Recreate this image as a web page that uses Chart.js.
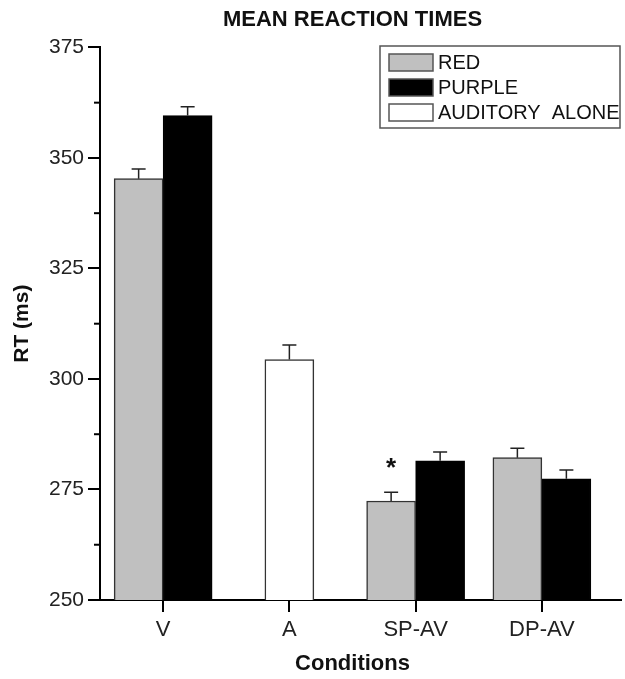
<!DOCTYPE html>
<html>
<head>
<meta charset="utf-8">
<script src="https://cdn.jsdelivr.net/npm/chart.js@4.4.1/dist/chart.umd.min.js"></script>
<style>
  html, body { margin: 0; padding: 0; background: #fff; }
  #wrap { width: 625px; height: 679px; }
</style>
</head>
<body>
<div id="wrap"><canvas id="rtChart"></canvas></div>
<script>
const conditions = ["V", "A", "SP-AV", "DP-AV"];
const redMeans = [345.3, null, 272.4, 282.2];
const redErrors = [2.2, null, 2.0, 2.1];
const purpleMeans = [359.6, null, 281.5, 277.4];
const purpleErrors = [2.0, null, 2.0, 2.0];
const auditoryMeans = [null, 304.4, null, null];
const auditoryErrors = [null, 3.3, null, null];
const yTicks = [250, 275, 300, 325, 350, 375];
const starMarks = [{ dataset: 0, index: 2, text: "*" }];

const FONT = "'Liberation Sans', Arial, Helvetica, sans-serif";

// error bars (upper only) + significance star
const errorBars = {
  id: "errorBars",
  afterDatasetsDraw(chart) {
    const ctx = chart.ctx;
    const y = chart.scales.y;
    ctx.save();
    ctx.strokeStyle = "#222";
    ctx.lineWidth = 1.5;
    chart.data.datasets.forEach((ds, i) => {
      const meta = chart.getDatasetMeta(i);
      meta.data.forEach((bar, j) => {
        const v = ds.data[j], e = ds.errors[j];
        if (v == null || e == null) return;
        const top = y.getPixelForValue(v + e);
        ctx.beginPath();
        ctx.moveTo(bar.x, bar.y);
        ctx.lineTo(bar.x, top);
        ctx.moveTo(bar.x - 7, top);
        ctx.lineTo(bar.x + 7, top);
        ctx.stroke();
      });
    });
    ctx.fillStyle = "#111";
    ctx.font = "bold 26px " + FONT;
    ctx.textAlign = "center";
    ctx.textBaseline = "top";
    starMarks.forEach((m) => {
      const ds = chart.data.datasets[m.dataset];
      const bar = chart.getDatasetMeta(m.dataset).data[m.index];
      const top = y.getPixelForValue(ds.data[m.index] + ds.errors[m.index]);
      ctx.fillText(m.text, bar.x, top - 36);
    });
    ctx.restore();
  },
  afterDraw(chart) {
    const ctx = chart.ctx;
    const area = chart.chartArea;
    const y = chart.scales.y;
    ctx.save();
    ctx.strokeStyle = "#000";
    ctx.lineWidth = 2;
    // x axis runs on past the last group
    ctx.beginPath();
    ctx.moveTo(area.right - 1, area.bottom);
    ctx.lineTo(622, area.bottom);
    ctx.stroke();
    // minor ticks
    for (let k = 0; k < yTicks.length - 1; k++) {
      const py = y.getPixelForValue((yTicks[k] + yTicks[k + 1]) / 2);
      ctx.beginPath();
      ctx.moveTo(area.left - 6, py);
      ctx.lineTo(area.left, py);
      ctx.stroke();
    }
    ctx.restore();
  }
};

// legend box inside the plot, top right
const boxLegend = {
  id: "boxLegend",
  afterDraw(chart) {
    const ctx = chart.ctx;
    ctx.save();
    ctx.strokeStyle = "#555";
    ctx.lineWidth = 1.5;
    ctx.strokeRect(380, 46, 240, 82);
    ctx.font = "20px " + FONT;
    ctx.textBaseline = "middle";
    ctx.textAlign = "left";
    chart.data.datasets.forEach((ds, i) => {
      const top = 54 + i * 25;
      ctx.fillStyle = ds.backgroundColor;
      ctx.fillRect(389, top, 44, 17);
      ctx.strokeStyle = "#555";
      ctx.strokeRect(389, top, 44, 17);
      ctx.fillStyle = "#111";
      ctx.fillText(ds.label, 438, top + 9);
    });
    ctx.restore();
  }
};

new Chart(document.getElementById("rtChart"), {
  type: "bar",
  data: {
    labels: conditions,
    datasets: [
      { label: "RED", data: redMeans, errors: redErrors,
        backgroundColor: "#c0c0c0", borderColor: "#333", borderWidth: 1.5 },
      { label: "PURPLE", data: purpleMeans, errors: purpleErrors,
        backgroundColor: "#000000", borderColor: "#000", borderWidth: 1.5 },
      { label: "AUDITORY  ALONE", data: auditoryMeans, errors: auditoryErrors,
        backgroundColor: "#ffffff", borderColor: "#333", borderWidth: 1.5 }
    ]
  },
  options: {
    responsive: true,
    maintainAspectRatio: false,
    animation: false,
    skipNull: true,
    barThickness: 49,
    layout: { padding: { left: 0, right: 20, top: 0, bottom: 0 } },
    plugins: {
      legend: { display: false },
      tooltip: { enabled: false },
      title: {
        display: true,
        fullSize: false,
        text: "MEAN REACTION TIMES",
        color: "#111",
        font: { family: FONT, size: 22, weight: "bold" },
        padding: { top: 7, bottom: 14 }
      }
    },
    scales: {
      x: {
        afterFit: (s) => { s.height = 79; },
        border: { color: "#000", width: 2 },
        grid: { drawOnChartArea: false, offset: false, tickLength: 12, color: "#000", lineWidth: 2 },
        ticks: { color: "#222", padding: 5, font: { family: FONT, size: 22 } },
        title: {
          display: true, text: "Conditions", color: "#111",
          font: { family: FONT, size: 22, weight: "bold" },
          padding: { top: 0, bottom: 2 }
        }
      },
      y: {
        min: 250,
        max: 375,
        afterFit: (s) => { s.width = 100; },
        afterBuildTicks: (s) => { s.ticks = yTicks.map((v) => ({ value: v })); },
        border: { color: "#000", width: 2 },
        grid: { drawOnChartArea: false, tickLength: 12, color: "#000", lineWidth: 2 },
        ticks: { color: "#222", padding: 4, font: { family: FONT, size: 21 } },
        title: {
          display: true, text: "RT (ms)", color: "#111",
          font: { family: FONT, size: 21, weight: "bold" },
          padding: { top: 10, bottom: 0 }
        }
      }
    }
  },
  plugins: [errorBars, boxLegend]
});
</script>
</body>
</html>
